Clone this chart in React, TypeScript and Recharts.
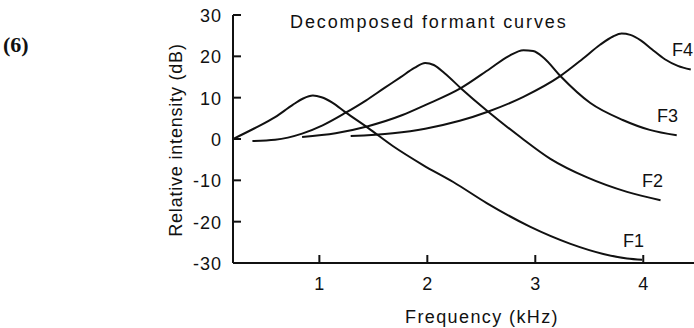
import React from "react";
import { LineChart, Line, XAxis, YAxis } from "recharts";

const f1Freq = [0.2, 0.4, 0.59, 0.75, 0.85, 0.94, 1.02, 1.12, 1.24, 1.45, 1.68, 1.96, 2.24, 2.55, 2.95, 3.32, 3.63, 3.85, 3.99];
const f1Db = [0, 2.6, 5.3, 8.2, 9.8, 10.5, 10.1, 8.8, 6.5, 2.7, -1.7, -6.3, -10.4, -15.5, -21.2, -25.3, -27.8, -28.9, -29.2];

const f2Freq = [0.38, 0.59, 0.84, 1.03, 1.24, 1.43, 1.6, 1.75, 1.88, 1.98, 2.06, 2.16, 2.31, 2.55, 2.87, 3.14, 3.48, 3.85, 4.16];
const f2Db = [-0.5, -0.2, 1.3, 3.3, 6.3, 9.3, 12.3, 14.9, 17.2, 18.4, 17.9, 15.9, 12.3, 6.9, 0.3, -4.8, -9.3, -12.8, -14.8];

const f3Freq = [0.84, 1.15, 1.45, 1.77, 1.98, 2.31, 2.58, 2.75, 2.89, 2.98, 3.08, 3.23, 3.51, 3.81, 4.06, 4.31];
const f3Db = [0.5, 1.4, 3.1, 5.8, 8.2, 12.3, 17.0, 20.0, 21.5, 21.3, 19.6, 15.3, 8.7, 4.6, 2.2, 0.9];

const f4Freq = [1.29, 1.68, 1.98, 2.3, 2.56, 2.89, 3.23, 3.44, 3.6, 3.72, 3.8, 3.88, 3.98, 4.08, 4.2, 4.32, 4.44];
const f4Db = [0.7, 1.4, 2.5, 4.4, 6.6, 10.2, 15.2, 19.4, 22.8, 24.8, 25.5, 25.2, 23.8, 21.7, 19.3, 17.7, 16.8];

const xTicks = [1, 2, 3, 4];
const yTicks = [-30, -20, -10, 0, 10, 20, 30];
const seriesNames = ["F1", "F2", "F3", "F4"];

const toRows = (fs: number[], vs: number[]) => fs.map((f, i) => ({ f, v: vs[i] }));
const series = [
  toRows(f1Freq, f1Db),
  toRows(f2Freq, f2Db),
  toRows(f3Freq, f3Db),
  toRows(f4Freq, f4Db),
];

const FONT = "'Liberation Sans', Arial, Helvetica, sans-serif";
const INK = "#111";

const YTick = (props: any) => {
  const { x, y, payload } = props;
  return (
    <g>
      <line x1={x} x2={x + 8} y1={y} y2={y} stroke={INK} strokeWidth={2} />
      <text x={x - 11} y={y + 7} textAnchor="end" fontSize={18} fontFamily={FONT} fill={INK} letterSpacing={1}>
        {payload.value}
      </text>
    </g>
  );
};

const XTick = (props: any) => {
  const { x, y, payload } = props;
  return (
    <g>
      <line x1={x} x2={x} y1={y - 8} y2={y} stroke={INK} strokeWidth={2} />
      <text x={x} y={y + 27} textAnchor="middle" fontSize={18} fontFamily={FONT} fill={INK}>
        {payload.value}
      </text>
    </g>
  );
};

const labelPos = [
  { x: 623, y: 247 },
  { x: 642, y: 187 },
  { x: 657, y: 122 },
  { x: 672, y: 56 },
];

export default function App() {
  return (
    <div style={{ position: "absolute", left: 0, top: 0, width: 694, height: 328, background: "#fff" }}>
      <LineChart width={694} height={328} margin={{ top: 15, right: 0, bottom: 35, left: 0 }}>
        <XAxis
          type="number"
          dataKey="f"
          domain={[0.2, 4.47]}
          ticks={xTicks}
          allowDataOverflow
          height={30}
          tickSize={0}
          tickMargin={0}
          tick={<XTick />}
          axisLine={{ stroke: INK, strokeWidth: 2 }}
          tickLine={false}
        />
        <YAxis
          type="number"
          dataKey="v"
          domain={[-30, 30]}
          ticks={yTicks}
          width={233}
          tickSize={0}
          tickMargin={0}
          tick={<YTick />}
          axisLine={{ stroke: INK, strokeWidth: 2 }}
          tickLine={false}
        />
        {series.map((d, i) => (
          <Line
            key={seriesNames[i]}
            name={seriesNames[i]}
            data={d}
            dataKey="v"
            type="monotone"
            stroke={INK}
            strokeWidth={2}
            dot={false}
            isAnimationActive={false}
          />
        ))}
      </LineChart>
      <svg width={694} height={328} style={{ position: "absolute", left: 0, top: 0, pointerEvents: "none" }}>
        <text x={3} y={52} fontSize={22} fontWeight="bold" fontFamily="'Liberation Serif', 'Times New Roman', serif" fill={INK}>
          (6)
        </text>
        <text x={290} y={28} fontSize={18} fontFamily={FONT} fill={INK} letterSpacing={1.9}>
          Decomposed formant curves
        </text>
        <text x={482} y={323} textAnchor="middle" fontSize={18} fontFamily={FONT} fill={INK} letterSpacing={1.4}>
          Frequency (kHz)
        </text>
        <text
          x={182}
          y={140}
          textAnchor="middle"
          fontSize={18}
          fontFamily={FONT}
          fill={INK}
          letterSpacing={0.8}
          transform="rotate(-90, 182, 140)"
        >
          Relative intensity (dB)
        </text>
        {seriesNames.map((n, i) => (
          <text key={n} x={labelPos[i].x} y={labelPos[i].y} fontSize={18} fontFamily={FONT} fill={INK}>
            {n}
          </text>
        ))}
      </svg>
    </div>
  );
}
